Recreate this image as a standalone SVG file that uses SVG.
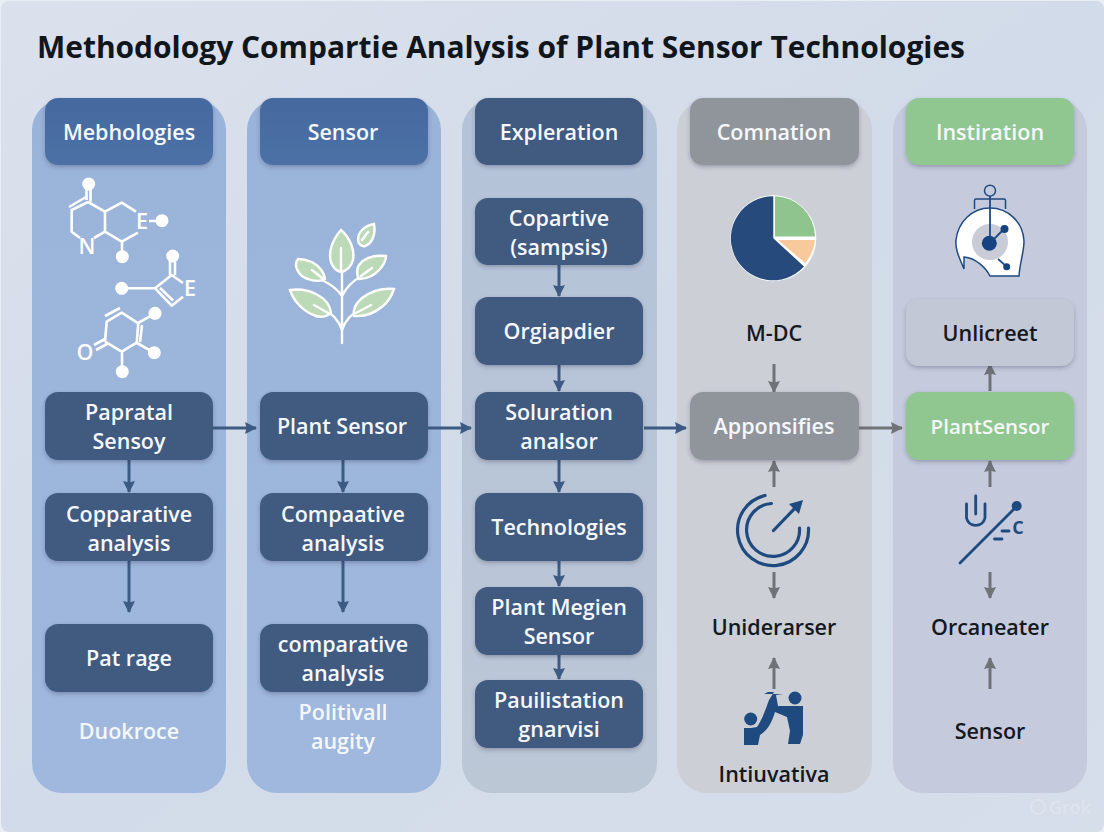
<svg xmlns="http://www.w3.org/2000/svg" width="1104" height="832" viewBox="0 0 1104 832">
<defs>
<linearGradient id="bg" x1="0" y1="0" x2="1" y2="1"><stop offset="0" stop-color="#dbe1ec"/><stop offset=".5" stop-color="#d2dbe9"/><stop offset="1" stop-color="#d6deea"/></linearGradient>
<linearGradient id="p1" x1="0" y1="0" x2="0" y2="1"><stop offset="0" stop-color="#9ab3d9"/><stop offset="1" stop-color="#a0b8dd"/></linearGradient>
<linearGradient id="p3" x1="0" y1="0" x2="0" y2="1"><stop offset="0" stop-color="#b4c3d9"/><stop offset="1" stop-color="#bcc7d6"/></linearGradient>
<linearGradient id="hb" x1="0" y1="0" x2="0" y2="1"><stop offset="0" stop-color="#44699f"/><stop offset="1" stop-color="#4d71a6"/></linearGradient>
<filter id="sh" x="-10%" y="-15%" width="120%" height="135%"><feDropShadow dx="0" dy="2" stdDeviation="2" flood-color="#26324a" flood-opacity=".3"/></filter>
<marker id="an" markerWidth="13" markerHeight="13" refX="11" refY="6" orient="auto" markerUnits="userSpaceOnUse"><path d="M0 0L12 6L0 12L1.5 6Z" fill="#3d5a82"/></marker>
<marker id="ag" markerWidth="13" markerHeight="13" refX="11" refY="6" orient="auto" markerUnits="userSpaceOnUse"><path d="M0 0L12 6L0 12L1.5 6Z" fill="#6f7276"/></marker>
</defs>
<style>
text{font-family:"Open Sans","Noto Sans","Liberation Sans",sans-serif;font-weight:600;text-anchor:middle;font-size:21.5px}
.n{fill:#3f5a80;filter:url(#sh)}
.g{fill:#90959c;filter:url(#sh)}
.gr{fill:#90c68f;filter:url(#sh)}
.w{fill:#f4f7fb}
.k{fill:#14181f}
.cn{stroke:#3d5a82;stroke-width:3;fill:none;marker-end:url(#an)}
.cg{stroke:#6f7276;stroke-width:3;fill:none;marker-end:url(#ag)}
.m{stroke:#fff;stroke-width:2.6;fill:none;stroke-linejoin:round}
.l{fill:#bcd9b8;stroke:#fff;stroke-width:2.4}
.v{stroke:#fff;stroke-width:2.4;fill:none;stroke-linecap:round}
.i{stroke:#1f4a80;fill:none;stroke-linecap:round}
</style>
<rect width="1104" height="832" fill="#e9edf4"/>
<rect x="1" y="1" width="1103" height="831" rx="8" fill="url(#bg)"/>
<text id="title" x="37" y="58" style="text-anchor:start;font-size:31px;font-weight:700" fill="#11151c" textLength="928" lengthAdjust="spacingAndGlyphs">Methodology Compartie Analysis of Plant Sensor Technologies</text>

<g id="panels">
<rect x="32" y="100" width="194" height="693" rx="30" fill="url(#p1)"/>
<rect x="247" y="100" width="194" height="693" rx="30" fill="url(#p1)"/>
<rect x="462" y="100" width="195" height="693" rx="30" fill="url(#p3)"/>
<rect x="677" y="100" width="195" height="693" rx="30" fill="#cccfd5"/>
<rect x="893" y="100" width="194" height="693" rx="30" fill="#c5cbdc"/>
</g>

<g id="connectors">
<path class="cn" d="M213 428H256"/><path class="cn" d="M129 460V492"/><path class="cn" d="M129 561V612"/>
<path class="cn" d="M428 428H471"/><path class="cn" d="M343 460V492"/><path class="cn" d="M343 561V612"/>
<path class="cn" d="M559 265V296"/><path class="cn" d="M559 365V391"/><path class="cn" d="M559 460V492"/><path class="cn" d="M559 561V586"/><path class="cn" d="M559 655V679"/><path class="cn" d="M644 428H686"/>
<path class="cg" d="M859 428H902"/><path class="cg" d="M774 364V392"/><path class="cg" d="M774 487V461"/><path class="cg" d="M774 572V598"/><path class="cg" d="M774 689V658"/>
<path class="cg" d="M990 391V364"/><path class="cg" d="M990 487V461"/><path class="cg" d="M990 572V598"/><path class="cg" d="M990 689V658"/>
</g>

<g id="col1">
<g id="h1"><rect x="45" y="98" width="168" height="67" rx="13" fill="url(#hb)" filter="url(#sh)"/><text class="w" x="129" y="140">Mebhologies</text></g>
<g id="n1a"><rect class="n" x="45" y="392" width="168" height="68" rx="13"/><text class="w" x="129" y="420">Papratal</text><text class="w" x="129" y="449">Sensoy</text></g>
<g id="n1b"><rect class="n" x="45" y="493" width="168" height="68" rx="13"/><text class="w" x="129" y="522">Copparative</text><text class="w" x="129" y="551">analysis</text></g>
<g id="n1c"><rect class="n" x="45" y="624" width="168" height="68" rx="13"/><text class="w" x="129" y="666">Pat rage</text></g>
<text id="n1d" class="w" x="129" y="739">Duokroce</text>
<g id="molecules">
<path class="m" d="M90.5 184V201.7M86.5 186V200M88 202L105 211.7V231.7L94 238M80 238L71.7 231.7V210L88 202M69 207L86 197M105 211.7L121.7 202.7L136 211.7M105 231.7L121.7 241.7L138 232.7M122 241.7V256M149 221H158"/>
<text x="142" y="229" fill="#fff" font-size="20">E</text><text x="87" y="254" fill="#fff" font-size="20">N</text>
<circle cx="88.7" cy="184" r="6.5" fill="#fff"/><circle cx="162" cy="220.7" r="6.5" fill="#fff"/><circle cx="122.3" cy="256.7" r="6.5" fill="#fff"/>
<path class="m" d="M122 288.3H155L171.7 275L183 283M183 296.7L171.7 305.7L155 288.3M160 288L173 300.5M170 257V275M175 257V275"/>
<text x="190" y="296" fill="#fff" font-size="20">E</text>
<circle cx="121.7" cy="288.3" r="6.5" fill="#fff"/><circle cx="172.7" cy="256" r="6.5" fill="#fff"/>
<path class="m" d="M105 341.7L106.7 321.7L121.7 312.7L138.3 323.3L136.7 342.7L121.7 351.7L105 341.7M105 316L120 308M142 325L140 342M138 323L155 313.3M137 343L154 352.7M122 352V372M94 345L105 339M96 350L107 344"/>
<text x="85" y="360" fill="#fff" font-size="21">O</text>
<circle cx="155" cy="313.3" r="6.5" fill="#fff"/><circle cx="154.3" cy="352.7" r="6.5" fill="#fff"/><circle cx="122.3" cy="371.7" r="6.5" fill="#fff"/>
</g>
</g>

<g id="col2">
<g id="h2"><rect x="260" y="98" width="168" height="67" rx="13" fill="url(#hb)" filter="url(#sh)"/><text class="w" x="343" y="140">Sensor</text></g>
<g id="n2a"><rect class="n" x="260" y="392" width="168" height="68" rx="13"/><text class="w" x="342" y="434">Plant Sensor</text></g>
<g id="n2b"><rect class="n" x="260" y="493" width="168" height="68" rx="13"/><text class="w" x="343" y="522">Compaative</text><text class="w" x="343" y="551">analysis</text></g>
<g id="n2c"><rect class="n" x="260" y="624" width="168" height="68" rx="13"/><text class="w" x="343" y="652">comparative</text><text class="w" x="343" y="681">analysis</text></g>
<g id="n2d"><text class="w" x="343" y="720">Politivall</text><text class="w" x="343" y="749">augity</text></g>
<g id="plant">
<path class="v" d="M342 343V250M342 330C338 318 330 312 322 308L304 290M342 330C346 318 354 312 362 308L372 300M342 296C337 288 330 284 322 280M342 296C347 286 354 280 362 276"/>
<path class="l" d="M341 230C332 240 328 253 331 262C333 268 337 271 341 272C346 271 351 267 353 260C355 250 350 238 341 230Z"/>
<path class="l" d="M374 224C364 226 358 232 358 240C358 244 362 247 365 246C372 244 376 234 374 224Z"/>
<path class="l" d="M298 259C293 265 298 276 308 279C315 282 322 281 325 279C324 272 319 266 312 262C307 260 302 259 298 259Z"/>
<path class="l" d="M386 256C374 255 364 258 359 265C356 269 357 276 359 279C368 279 376 274 381 268C384 264 386 260 386 256Z"/>
<path class="l" d="M290 290C294 302 304 312 316 316C322 318 328 316 331 313C330 304 324 298 316 294C308 290 298 289 290 290Z"/>
<path class="l" d="M394 289C382 288 370 292 362 298C355 304 353 311 354 316C366 317 376 312 383 306C389 301 392 295 394 289Z"/>
<path class="v" d="M341 248V272M368 232L362 240M312 270L322 278M372 268L361 276M314 305L330 314M371 305L356 313" stroke-width="1.8"/>
</g>
</g>

<g id="col3">
<g id="h3"><rect class="n" x="475" y="98" width="168" height="67" rx="13"/><text class="w" x="559" y="140">Expleration</text></g>
<g id="n3a"><rect class="n" x="475" y="198" width="168" height="67" rx="13"/><text class="w" x="559" y="226">Copartive</text><text class="w" x="559" y="255">(sampsis)</text></g>
<g id="n3b"><rect class="n" x="475" y="297" width="168" height="68" rx="13"/><text class="w" x="559" y="339">Orgiapdier</text></g>
<g id="n3c"><rect class="n" x="475" y="392" width="168" height="68" rx="13"/><text class="w" x="559" y="420">Soluration</text><text class="w" x="559" y="449">analsor</text></g>
<g id="n3d"><rect class="n" x="475" y="493" width="168" height="68" rx="13"/><text class="w" x="559" y="535">Technologies</text></g>
<g id="n3e"><rect class="n" x="475" y="587" width="168" height="68" rx="13"/><text class="w" x="559" y="615">Plant Megien</text><text class="w" x="559" y="644">Sensor</text></g>
<g id="n3f"><rect class="n" x="475" y="680" width="168" height="68" rx="13"/><text class="w" x="559" y="708">Pauilistation</text><text class="w" x="559" y="737">gnarvisi</text></g>
</g>

<g id="col4">
<g id="h4"><rect class="g" x="690" y="98" width="169" height="67" rx="13"/><text class="w" x="774" y="140">Comnation</text></g>
<g id="pie"><circle cx="773.3" cy="238.3" r="43" fill="#fff"/>
<path d="M773.3 238.3V196.3A42 42 0 1 0 804 266.5Z" fill="#264a7c"/>
<path d="M775 236.5V196.3A41 41 0 0 1 815 236.5Z" fill="#8fc48e"/>
<path d="M778 240H815A41 41 0 0 1 805 263Z" fill="#f8c99a"/></g>
<text id="n4a" class="k" x="774" y="341">M-DC</text>
<g id="n4b"><rect class="g" x="690" y="392" width="169" height="68" rx="13"/><text class="w" x="774" y="434">Apponsifies</text></g>
<g id="cycle">
<path class="i" stroke-width="3.2" d="M765 495.5A35.5 35.5 0 1 0 808.5 528"/>
<path class="i" stroke-width="3.2" d="M771.5 503.5A26.5 26.5 0 1 0 799.5 528"/>
<path class="i" stroke-width="3.2" d="M773.5 530.5L798 505"/><path d="M803 500L799 514L789 504Z" fill="#1f4a80"/>
</g>
<text id="n4c" class="k" x="774" y="635">Uniderarser</text>
<g id="people" fill="#1f4a80">
<circle cx="750.7" cy="719" r="6.5"/><circle cx="795" cy="698" r="6.5"/>
<path d="M744 728H751L757 727C763 718 766 708 769 700L774 692H768L764 694H783L776 695L778 706H803V735L800 744H788L790 731L787 717L775 712C772 722 768 730 760 735L758 745H744Z"/>
</g>
<text id="n4d" class="k" x="774" y="782">Intiuvativa</text>
</g>

<g id="col5">
<g id="h5"><rect class="gr" x="906" y="98" width="168" height="67" rx="13"/><text class="w" x="990" y="140">Instiration</text></g>
<g id="head">
<circle cx="990" cy="190.7" r="5.5" fill="none" stroke="#1f4a80" stroke-width="1.5"/>
<path d="M974.5 209V200.5Q974.5 199 976 199H1004Q1005.5 199 1005.5 200.5V209" fill="none" stroke="#1f4a80" stroke-width="1.5"/>
<path d="M964 269C958 255 955 248 956 240C958 222 972 208 990 208C1008 208 1023 222 1024 241C1024 252 1020 262 1019 276H990C986 268 976 258 964 257Z" fill="#fff" stroke="#1f4a80" stroke-width="1.5"/>
<circle cx="990" cy="242" r="18" fill="#c9ccd6"/>
<path d="M990 196V243L1004 229M998 259L1006.7 266.7" stroke="#1f4a80" stroke-width="1.8" fill="none"/>
<circle cx="989.3" cy="243.3" r="7.5" fill="#164480"/><circle cx="1004.5" cy="229" r="4" fill="#164480"/><circle cx="1006.7" cy="266.7" r="3.5" fill="#164480"/>
</g>
<g id="n5a"><rect x="906" y="299" width="168" height="67" rx="13" fill="#c2c8d6" filter="url(#sh)"/><text class="k" x="990" y="341">Unlicreet</text></g>
<g id="n5b"><rect class="gr" x="906" y="392" width="168" height="68" rx="13"/><text class="w" x="990" y="434" style="font-size:20.5px">PlantSensor</text></g>
<g id="sensor">
<path class="i" stroke-width="2.8" d="M966.5 504V518A9.5 9.5 0 0 0 985 518V504M975.7 496V514"/>
<path class="i" stroke-width="2.8" d="M960 563L1016 507M1002 531H1009M994.5 539H1002"/>
<circle cx="1016.7" cy="506" r="5" fill="#1f4a80"/>
<text x="1018" y="534" fill="#1f4a80" font-size="18" style="font-weight:700;font-size:18px">C</text>
</g>
<text id="n5c" class="k" x="990" y="635">Orcaneater</text>
<text id="n5d" class="k" x="990" y="739">Sensor</text>
</g>
<g id="watermark" opacity=".5"><circle cx="1038" cy="807" r="7" fill="none" stroke="#e6ebf3" stroke-width="2"/><text x="1070" y="814" fill="#e6ebf3" style="font-size:18px">Grok</text></g>
</svg>
